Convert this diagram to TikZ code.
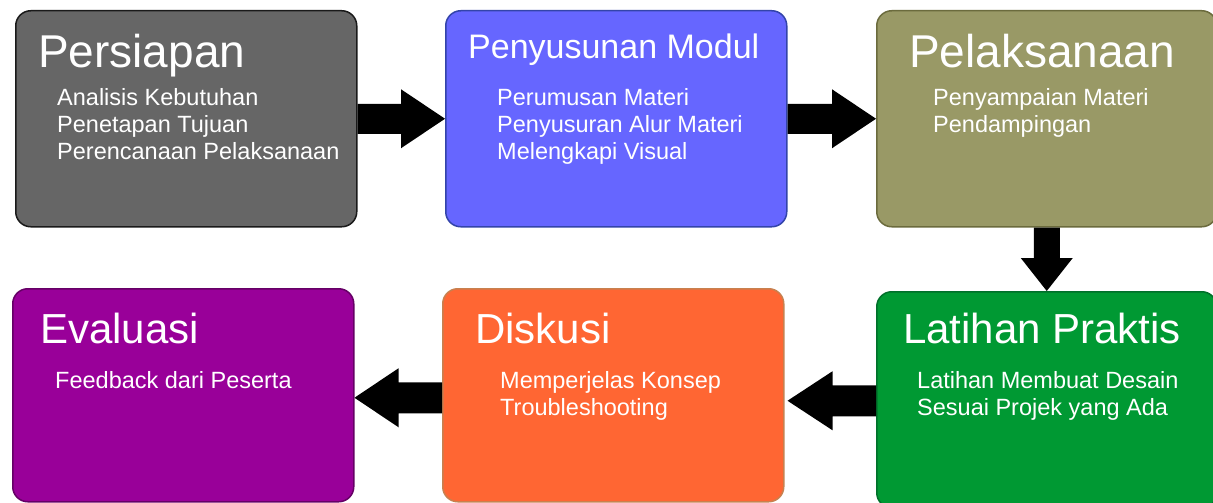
\documentclass[tikz,border=0pt]{standalone}
\usepackage{fontspec}
\setmainfont{Liberation Sans}
\usetikzlibrary{calc}
\definecolor{cgray}{HTML}{666666}\definecolor{bgray}{HTML}{1A1A1A}
\definecolor{cblue}{HTML}{6666FF}\definecolor{bblue}{HTML}{3344AA}
\definecolor{colive}{HTML}{999966}\definecolor{bolive}{HTML}{6B6B3D}
\definecolor{cgreen}{HTML}{009933}\definecolor{bgreen}{HTML}{00702A}
\definecolor{corange}{HTML}{FF6633}\definecolor{borange}{HTML}{C8804F}
\definecolor{cpurple}{HTML}{990099}\definecolor{bpurple}{HTML}{660066}
\tikzset{
  box/.style={draw, line width=1.5pt, rounded corners=15pt, anchor=north west, inner sep=0pt},
  ttl/.style={text=white, anchor=base west, inner sep=0pt},
  sub/.style={text=white, anchor=north west, inner sep=0pt, align=left, font=\fontsize{23.5}{27}\selectfont},
  blockarr/.style={fill=black},
}
\begin{document}
\begin{tikzpicture}[x=1pt,y=-1pt]
\useasboundingbox (0,0) rectangle (1213,503);
\clip (0,0) rectangle (1213,503);
\fill[white] (0,0) rectangle (1213,503);
% boxes
\node[box, fill=cgray, draw=bgray, minimum width=341pt, minimum height=216pt] (p1) at (15,10) {};
\node[box, fill=cblue, draw=bblue, minimum width=341pt, minimum height=216pt] (p2) at (445,10) {};
\node[box, fill=colive, draw=bolive, minimum width=340pt, minimum height=216pt] (p3) at (876,10) {};
\node[box, fill=cgreen, draw=bgreen, minimum width=340pt, minimum height=216pt] (p4) at (876,291) {};
\node[box, fill=corange, draw=borange, minimum width=341pt, minimum height=213pt] (p5) at (442,288) {};
\node[box, fill=cpurple, draw=bpurple, minimum width=341pt, minimum height=213pt] (p6) at (12,288) {};
% titles
\node[ttl, font=\fontsize{46}{46}\selectfont] (t1) at (38,68) {Persiapan};
\node[ttl, font=\fontsize{34}{34}\selectfont] (t2) at (468,59) {Penyusunan Modul};
\node[ttl, font=\fontsize{46}{46}\selectfont] (t3) at (909,67) {Pelaksanaan};
\node[ttl, font=\fontsize{42}{42}\selectfont] (t4) at (903,343) {Latihan Praktis};
\node[ttl, font=\fontsize{42}{42}\selectfont] (t5) at (475,343) {Diskusi};
\node[ttl, font=\fontsize{42}{42}\selectfont] (t6) at (40,343) {Evaluasi};
% sub texts
\node[sub] (s1) at (57,88) {Analisis Kebutuhan\\Penetapan Tujuan\\Perencanaan Pelaksanaan};
\node[sub] (s2) at (497,88) {Perumusan Materi\\Penyusuran Alur Materi\\Melengkapi Visual};
\node[sub] (s3) at (933,88) {Penyampaian Materi\\Pendampingan};
\node[sub] (s4) at (917,371) {Latihan Membuat Desain\\Sesuai Projek yang Ada};
\node[sub] (s5) at (500,371) {Memperjelas Konsep\\Troubleshooting};
\node[sub] (s6) at (55,371) {Feedback dari Peserta};
% arrows
\fill[blockarr] ($(p1.east)+(0,-15)$) -- ($(p2.west)+(-44,-15)$) -- ($(p2.west)+(-44,-29.5)$) -- (p2.west)
  -- ($(p2.west)+(-44,29.5)$) -- ($(p2.west)+(-44,15)$) -- ($(p1.east)+(0,15)$) -- cycle;
\fill[blockarr] ($(p2.east)+(0,-15)$) -- ($(p3.west)+(-44,-15)$) -- ($(p3.west)+(-44,-29.5)$) -- (p3.west)
  -- ($(p3.west)+(-44,29.5)$) -- ($(p3.west)+(-44,15)$) -- ($(p2.east)+(0,15)$) -- cycle;
\fill[blockarr] ($(p3.south)+(-13,0)$) -- ($(p4.north)+(-13,-33)$) -- ($(p4.north)+(-26,-33)$) -- (p4.north)
  -- ($(p4.north)+(26,-33)$) -- ($(p4.north)+(13,-33)$) -- ($(p3.south)+(13,0)$) -- cycle;
\coordinate (tipA) at ($(p5.east)+(3,5.5)$);
\fill[blockarr] ($(p4.west |- tipA)+(0,-15.5)$) -- ($(tipA)+(45,-15.5)$) -- ($(tipA)+(45,-29.5)$) -- (tipA)
  -- ($(tipA)+(45,29.5)$) -- ($(tipA)+(45,15.5)$) -- ($(p4.west |- tipA)+(0,15.5)$) -- cycle;
\coordinate (tipB) at ($(p6.east)+(0,2.5)$);
\fill[blockarr] ($(p5.west |- tipB)+(0,-15.5)$) -- ($(tipB)+(44,-15.5)$) -- ($(tipB)+(44,-29.5)$) -- (tipB)
  -- ($(tipB)+(44,29.5)$) -- ($(tipB)+(44,15.5)$) -- ($(p5.west |- tipB)+(0,15.5)$) -- cycle;
\end{tikzpicture}
\end{document}
